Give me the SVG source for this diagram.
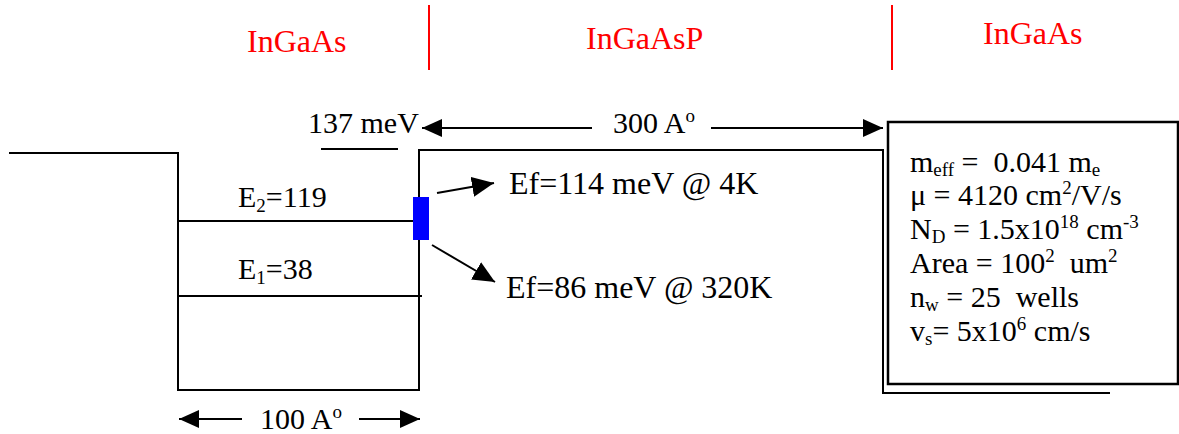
<svg xmlns="http://www.w3.org/2000/svg" width="1179" height="434" viewBox="0 0 1179 434">
<style>
text{font-family:"Liberation Serif","Times New Roman",serif;fill:#000;white-space:pre}
.red{fill:#ff0000;font-size:32px}
.lbl{font-size:30px}
.ef{font-size:32px}
.ln{fill:none;stroke:#000;stroke-width:2}
.sub{font-size:19px}
.sup{font-size:19px}
</style>
<defs>
<marker id="ah" viewBox="0 0 20 18" markerWidth="20" markerHeight="18" refX="20" refY="9" orient="auto" markerUnits="userSpaceOnUse">
<path d="M0,0 L20,9 L0,18 Z" fill="#000"/>
</marker>
<marker id="ah2" viewBox="0 0 22 20" markerWidth="22" markerHeight="20" refX="22" refY="10" orient="auto" markerUnits="userSpaceOnUse">
<path d="M0,0 L22,10 L0,20 Z" fill="#000"/>
</marker>
</defs>
<rect width="1179" height="434" fill="#fff"/>

<g id="materials">
<text class="red" x="247" y="52">InGaAs</text>
<text class="red" x="586" y="49">InGaAsP</text>
<text class="red" x="983" y="44">InGaAs</text>
<line x1="429" y1="5" x2="429" y2="70" stroke="#ff0000" stroke-width="2"/>
<line x1="892" y1="5" x2="892" y2="70" stroke="#ff0000" stroke-width="2"/>
</g>

<g id="band-profile">
<path class="ln" d="M9,153 H178 V390 H419 V150 H883 V393 H1110"/>
<path class="ln" d="M321,149 H398"/>
<text class="lbl" x="308" y="133">137 meV</text>
</g>

<g id="level-E2">
<path class="ln" d="M178,221 H415"/>
<text class="lbl" x="238" y="207">E<tspan class="sub" dy="5">2</tspan><tspan dy="-5">=119</tspan></text>
</g>

<g id="level-E1">
<path class="ln" d="M178,296 H422"/>
<text class="lbl" x="238" y="279">E<tspan class="sub" dy="5">1</tspan><tspan dy="-5">=38</tspan></text>
</g>

<g id="fermi-level">
<rect x="413" y="197" width="16" height="43" fill="#0000ff"/>
<text class="ef" x="509" y="194">Ef=114 meV @ 4K</text>
<text class="ef" x="506" y="298">Ef=86 meV @ 320K</text>
</g>

<g id="dim-300">
<text class="lbl" x="613" y="133">300 A<tspan class="sup" dy="-11">o</tspan></text>
</g>

<g id="dim-100">
<text class="lbl" x="260" y="429">100 A<tspan class="sup" dy="-11">o</tspan></text>
</g>

<g id="params">
<rect x="888" y="122" width="290" height="262" fill="#fff" stroke="#000" stroke-width="2.5"/>
<text class="lbl" x="910" y="172">m<tspan class="sub" dy="4">eff</tspan><tspan dy="-4"> =  0.041 m</tspan><tspan class="sub" dy="4">e</tspan></text>
<text class="lbl" x="910" y="205">μ = 4120 cm<tspan class="sup" dy="-11">2</tspan><tspan dy="11">/V/s</tspan></text>
<text class="lbl" x="910" y="239">N<tspan class="sub" dy="4">D</tspan><tspan dy="-4"> = 1.5x10</tspan><tspan class="sup" dy="-11">18</tspan><tspan dy="11"> cm</tspan><tspan class="sup" dy="-11">-3</tspan></text>
<text class="lbl" x="910" y="273">Area = 100<tspan class="sup" dy="-11">2</tspan><tspan dy="11">  um</tspan><tspan class="sup" dy="-11">2</tspan></text>
<text class="lbl" x="910" y="307">n<tspan class="sub" dy="4">w</tspan><tspan dy="-4"> = 25  wells</tspan></text>
<text class="lbl" x="910" y="341">v<tspan class="sub" dy="4">s</tspan><tspan dy="-4">= 5x10</tspan><tspan class="sup" dy="-11">6</tspan><tspan dy="11"> cm/s</tspan></text>
</g>

<g id="connectors" class="ln">
<line class="ln" x1="592" y1="128" x2="422" y2="128" marker-end="url(#ah)"/>
<line class="ln" x1="711" y1="128" x2="883" y2="128" marker-end="url(#ah)"/>
<line class="ln" x1="242" y1="419" x2="179" y2="419" marker-end="url(#ah)"/>
<line class="ln" x1="359" y1="419" x2="420" y2="419" marker-end="url(#ah)"/>
<line class="ln" x1="437" y1="193" x2="494" y2="183" marker-end="url(#ah2)"/>
<line class="ln" x1="432" y1="245" x2="495" y2="282" marker-end="url(#ah2)"/>
</g>
</svg>
